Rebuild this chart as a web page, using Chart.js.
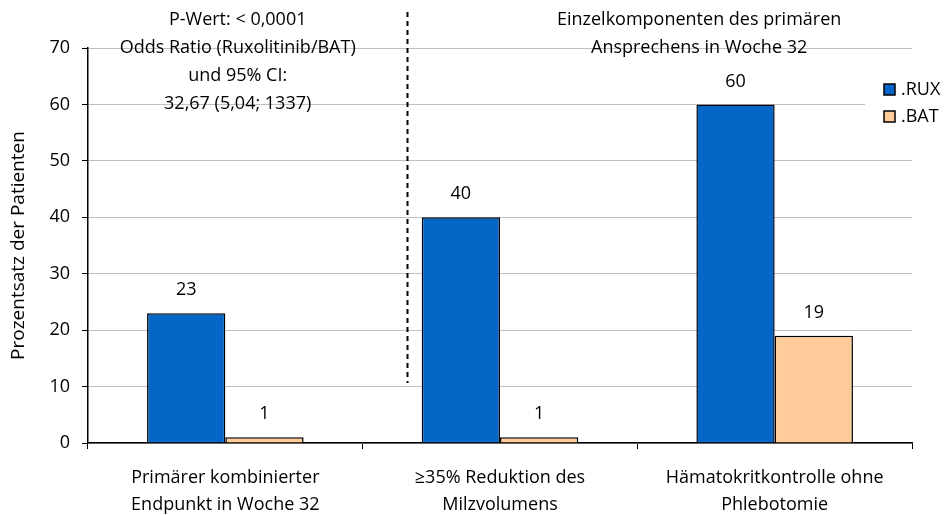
<!DOCTYPE html>
<html>
<head>
<meta charset="utf-8">
<script src="https://cdn.jsdelivr.net/npm/chart.js@4.4.0/dist/chart.umd.min.js"></script>
<style>
  html, body { margin: 0; padding: 0; background: #fff; }
</style>
</head>
<body>
<canvas id="chart" width="947" height="515"></canvas>
<script>
// ==========================================
// Data
// ==========================================
const categories = [
    ["Primärer kombinierter", "Endpunkt in Woche 32"],
    ["≥35% Reduktion des", "Milzvolumens"],
    ["Hämatokritkontrolle ohne", "Phlebotomie"]
];
const ruxValues = [23, 40, 60];
const batValues = [1, 1, 19];
const seriesNames = [".RUX", ".BAT"];
const yMin = 0, yMax = 70, yStep = 10;
const yTitle = "Prozentsatz der Patienten";
const leftNote = ["P-Wert: < 0,0001", "Odds Ratio (Ruxolitinib/BAT)", "und 95% CI:", "32,67 (5,04; 1337)"];
const rightNote = ["Einzelkomponenten des primären", "Ansprechens in Woche 32"];

const FONT = "'Open Sans', Lato, sans-serif";
const FS = 18;
const ruxColor = "#0566C8";
const batColor = "#FFCC99";

// ==========================================
// Overlay: value labels, notes, divider, legend
// ==========================================
const overlay = {
    id: "overlay",
    afterDraw(chart) {
        const ctx = chart.ctx;
        const area = chart.chartArea;
        const xs = chart.scales.x;
        ctx.save();
        ctx.font = FS + "px " + FONT;
        ctx.fillStyle = "#000";
        ctx.textAlign = "center";
        ctx.textBaseline = "middle";

        // value labels above bars
        chart.data.datasets.forEach((ds, di) => {
            chart.getDatasetMeta(di).data.forEach((bar, i) => {
                ctx.fillText(String(ds.data[i]), bar.x, bar.y - 23);
            });
        });

        // dashed divider
        const dx = Math.round(xs.getPixelForValue(0.66)) + 0.5;
        ctx.strokeStyle = "#000";
        ctx.lineWidth = 2;
        ctx.setLineDash([5, 4]);
        ctx.beginPath();
        ctx.moveTo(dx, area.top - 36);
        ctx.lineTo(dx, area.bottom - 60);
        ctx.stroke();
        ctx.setLineDash([]);

        // notes
        const lx = xs.getPixelForValue(0.045);
        leftNote.forEach((t, i) => ctx.fillText(t, lx, area.top - 28 + i * 28));
        const rx = xs.getPixelForValue(1.725);
        rightNote.forEach((t, i) => ctx.fillText(t, rx, area.top - 28 + i * 28));

        // legend
        ctx.fillStyle = "#fff";
        ctx.fillRect(area.right - 47, area.top + 25, 90, 70);
        ctx.textAlign = "left";
        chart.data.datasets.forEach((ds, di) => {
            const cy = area.top + 42 + di * 27;
            ctx.fillStyle = ds.backgroundColor;
            ctx.fillRect(area.right - 28, cy - 6, 11, 11);
            ctx.strokeStyle = "#000";
            ctx.lineWidth = 1.5;
            ctx.strokeRect(area.right - 28, cy - 6, 11, 11);
            ctx.fillStyle = "#000";
            ctx.fillText(ds.label, area.right - 11, cy);
        });
        ctx.restore();
    }
};

// ==========================================
// Chart
// ==========================================
const ctx = document.getElementById("chart").getContext("2d");
const chart = new Chart(ctx, {
    type: "bar",
    data: {
        labels: categories,
        datasets: [
            {
                label: seriesNames[0],
                data: ruxValues,
                backgroundColor: ruxColor,
                borderColor: "#000",
                borderWidth: 1.5,
                categoryPercentage: 0.57,
                barPercentage: 1
            },
            {
                label: seriesNames[1],
                data: batValues,
                backgroundColor: batColor,
                borderColor: "#000",
                borderWidth: 1.5,
                categoryPercentage: 0.57,
                barPercentage: 1
            }
        ]
    },
    options: {
        responsive: false,
        animation: false,
        layout: { padding: { left: 0, top: 48, right: 35, bottom: 0 } },
        plugins: {
            legend: { display: false },
            tooltip: { enabled: false }
        },
        scales: {
            x: {
                afterFit: s => { s.height = 72; },
                grid: { drawOnChartArea: false, color: "#000", tickLength: 6 },
                border: { color: "#000", width: 1.5 },
                ticks: {
                    color: "#000",
                    padding: 15,
                    font: { family: FONT, size: FS, lineHeight: 1.5 },
                    maxRotation: 0
                }
            },
            y: {
                min: yMin,
                max: yMax,
                afterFit: s => { s.width = 88; },
                grid: { color: "#C0C0C0", tickColor: "#000", tickLength: 6, lineWidth: 1 },
                border: { color: "#000", width: 1.5 },
                ticks: {
                    stepSize: yStep,
                    color: "#000",
                    padding: 12,
                    font: { family: FONT, size: FS }
                },
                title: {
                    display: true,
                    text: yTitle,
                    color: "#000",
                    padding: { top: 7, bottom: 0 },
                    font: { family: FONT, size: 19 }
                }
            }
        }
    },
    plugins: [overlay]
});
</script>
</body>
</html>
